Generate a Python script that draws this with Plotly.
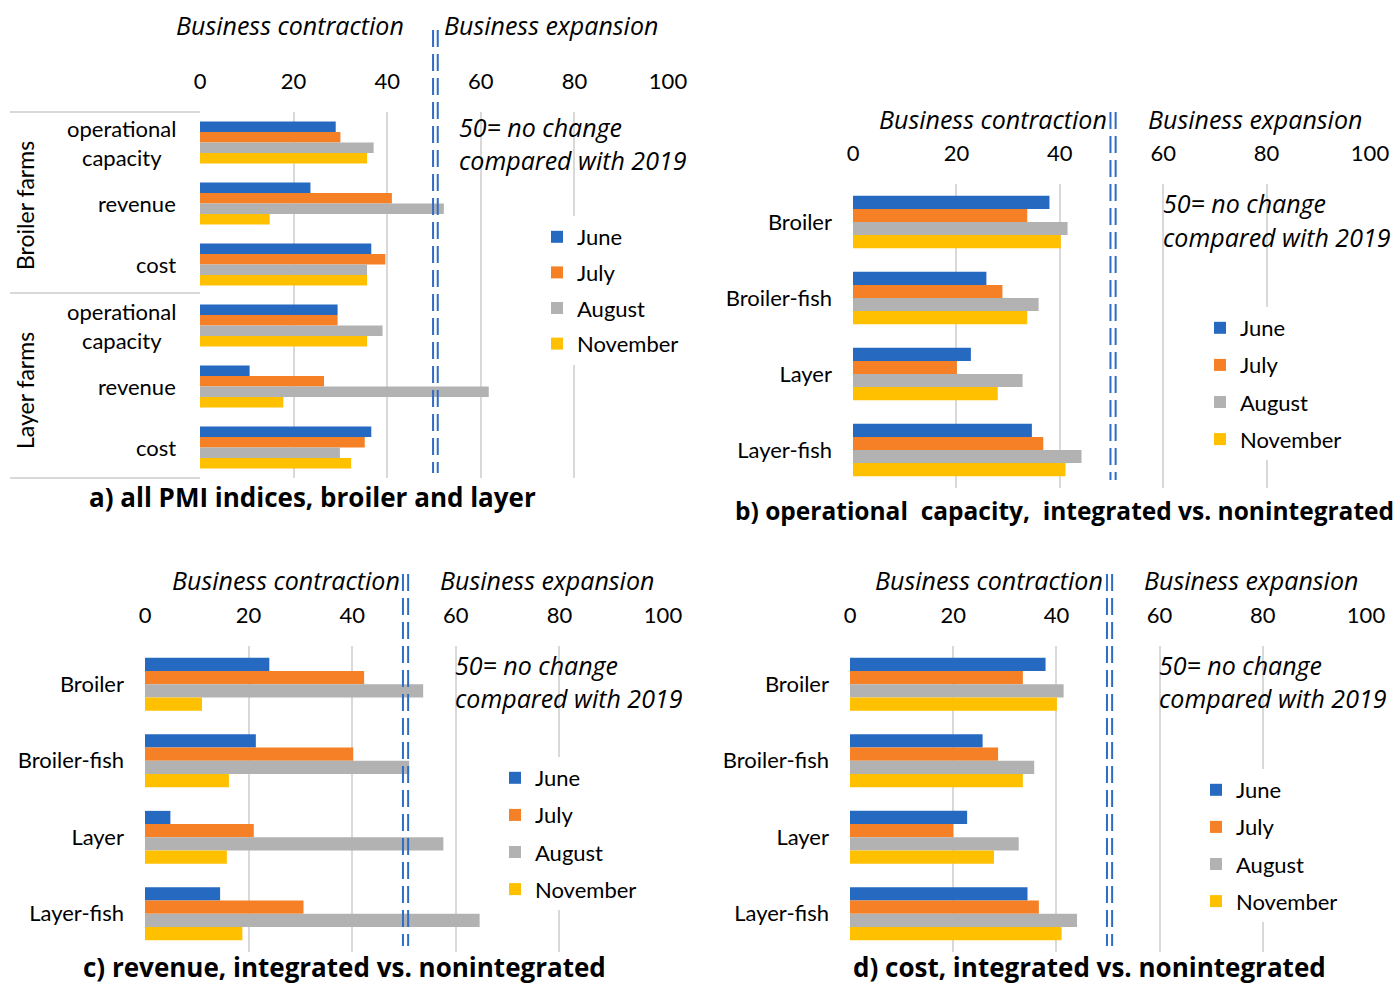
import plotly.graph_objects as go

# ---------------- data ----------------
MONTHS = ["June", "July", "August", "November"]
COLORS = ["#2669C1", "#F58025", "#B2B2B2", "#FFC000"]
TICKS = [0, 20, 40, 60, 80, 100]

# panel a: all PMI indices for broiler and layer farms
GROUPS_A = ["Broiler farms", "Broiler farms", "Broiler farms",
            "Layer farms", "Layer farms", "Layer farms"]
INDICES_A = ["operational<br>capacity", "revenue", "cost",
             "operational<br>capacity", "revenue", "cost"]
A_JUNE = [29.0, 23.6, 36.6, 29.4, 10.6, 36.6]
A_JULY = [30.0, 41.0, 39.6, 29.4, 26.5, 35.2]
A_AUGUST = [37.1, 52.1, 35.7, 39.0, 61.7, 29.9]
A_NOVEMBER = [35.7, 14.9, 35.7, 35.7, 17.8, 32.3]

# panels b-d: integrated vs. nonintegrated farm types
FARM_TYPES = ["Broiler", "Broiler-fish", "Layer", "Layer-fish"]

B_JUNE = [38.0, 25.8, 22.8, 34.6]
B_JULY = [33.7, 28.9, 20.1, 36.8]
B_AUGUST = [41.5, 35.9, 32.8, 44.2]
B_NOVEMBER = [40.2, 33.7, 28.0, 41.1]

C_JUNE = [24.0, 21.4, 4.9, 14.5]
C_JULY = [42.3, 40.2, 21.0, 30.6]
C_AUGUST = [53.7, 51.0, 57.6, 64.6]
C_NOVEMBER = [11.0, 16.2, 15.8, 18.8]

D_JUNE = [37.9, 25.7, 22.7, 34.4]
D_JULY = [33.5, 28.7, 20.0, 36.6]
D_AUGUST = [41.4, 35.7, 32.7, 44.0]
D_NOVEMBER = [40.1, 33.5, 27.9, 41.0]

TITLES = ["a) all PMI indices, broiler and layer",
          "b) operational  capacity,  integrated vs. nonintegrated",
          "c) revenue, integrated vs. nonintegrated",
          "d) cost, integrated vs. nonintegrated"]
NOTE_LINES = ["50= no change", "compared with 2019"]
SIDE_LABELS = ["Business contraction", "Business expansion"]
DIVIDER_X = [49.8, 50.8]   # the double dashed "no change" marker near 50

W, H = 1394, 985
FONT = "Lato"
WIDE_FONT = "Open Sans"
GRID = "#D9D9D9"
DIV_COLOR = "#2F6CC6"


def px(x):
    return x / W


def py(y):
    return 1 - y / H


cat_a = [g + "|" + i for g, i in zip(GROUPS_A, INDICES_A)]

panels = [
    dict(cats=cat_a, vals=[A_JUNE, A_JULY, A_AUGUST, A_NOVEMBER],
         xdom=(200, 668), ydom=(112, 478), ticklabels=False),
    dict(cats=FARM_TYPES, vals=[B_JUNE, B_JULY, B_AUGUST, B_NOVEMBER],
         xdom=(853, 1370), ydom=(184, 488), ticklabels=True),
    dict(cats=FARM_TYPES, vals=[C_JUNE, C_JULY, C_AUGUST, C_NOVEMBER],
         xdom=(145, 663), ydom=(646, 952), ticklabels=True),
    dict(cats=FARM_TYPES, vals=[D_JUNE, D_JULY, D_AUGUST, D_NOVEMBER],
         xdom=(850, 1366), ydom=(646, 952), ticklabels=True),
]

# legend placement (left, top, gap between entries) in pixels
LEGEND_POS = [(537, 216, 4), (1200, 307, 5.5), (495, 757, 5.5), (1196, 769, 5.5)]
# side-label centres: (contraction x, expansion x, y)
SIDE_POS = [(290, 551, 25), (993, 1255, 119), (286, 547, 580), (989, 1251, 580)]
# note position: (left x, first line y, second line y)
NOTE_POS = [(457, 127, 160), (1161, 203, 237), (453, 665, 698), (1157, 665, 698)]
# title centre and size
TITLE_POS = [(312, 497, 26), (1064, 510, 24.5), (344, 967, 26), (1089, 967, 26)]
DIV_SPAN = [(30, 473), (112, 480), (574, 946), (574, 946)]

fig = go.Figure()
annotations = []
shapes = []
layout_axes = {}

for k, p in enumerate(panels):
    n = "" if k == 0 else str(k + 1)
    legend_name = "legend" + n
    for m, month in enumerate(MONTHS):
        fig.add_trace(go.Bar(
            y=p["cats"], x=p["vals"][m], orientation="h", name=month,
            marker=dict(color=COLORS[m], line=dict(width=0)),
            xaxis="x" + n, yaxis="y" + n,
            legend=legend_name, legendgroup=f"{k}-{month}",
            showlegend=True,
        ))

    layout_axes["xaxis" + n] = dict(
        domain=[px(p["xdom"][0]), px(p["xdom"][1])],
        anchor="y" + n, side="top", range=[0, 100],
        tickmode="array", tickvals=TICKS, ticktext=[str(t) for t in TICKS],
        showgrid=True, gridcolor=GRID, gridwidth=2,
        zeroline=False, showline=False, ticks="", automargin=False,
        ticklabelstandoff=18, tickfont=dict(size=22, family=FONT),
        fixedrange=True,
    )
    layout_axes["yaxis" + n] = dict(
        domain=[py(p["ydom"][1]), py(p["ydom"][0])],
        anchor="x" + n, type="category", autorange="reversed",
        showgrid=False, zeroline=False, showline=False, ticks="",
        automargin=False,
        showticklabels=p["ticklabels"], ticklabelstandoff=20,
        tickfont=dict(size=22, family=FONT), fixedrange=True,
    )

    lx, ly, gap = LEGEND_POS[k]
    layout_axes[legend_name] = dict(
        x=px(lx), y=py(ly), xanchor="left", yanchor="top",
        bgcolor="white", borderwidth=0, tracegroupgap=gap,
        font=dict(size=22, family=FONT), traceorder="grouped",
    )

    cx, ex, sy = SIDE_POS[k]
    for text, xx in zip(SIDE_LABELS, (cx, ex)):
        annotations.append(dict(
            text=f"<i>{text}</i>", x=px(xx), y=py(sy), xref="paper", yref="paper",
            xanchor="center", yanchor="middle", showarrow=False,
            font=dict(size=25, family=WIDE_FONT)))

    nx, n1, n2 = NOTE_POS[k]
    for text, yy in zip(NOTE_LINES, (n1, n2)):
        annotations.append(dict(
            text=f"<i>{text}</i>", x=px(nx), y=py(yy), xref="paper", yref="paper",
            xanchor="left", yanchor="middle", showarrow=False,
            font=dict(size=25, family=WIDE_FONT)))

    tx, ty, ts = TITLE_POS[k]
    annotations.append(dict(
        text=f"<b>{TITLES[k]}</b>", x=px(tx), y=py(ty), xref="paper", yref="paper",
        xanchor="center", yanchor="middle", showarrow=False,
        font=dict(size=ts, family=WIDE_FONT)))

    d0, d1 = DIV_SPAN[k]
    for dx in DIVIDER_X:
        shapes.append(dict(
            type="line", xref="x" + n, yref="paper", x0=dx, x1=dx,
            y0=py(d0), y1=py(d1), layer="above",
            line=dict(color=DIV_COLOR, width=2, dash="17px,7px")))

# panel a: index labels (centred multi-line block, right aligned to the axis)
for cat, label in zip(cat_a, INDICES_A):
    annotations.append(dict(
        text=label, x=px(178), y=cat, xref="paper", yref="y",
        xanchor="right", yanchor="middle", align="center", showarrow=False,
        font=dict(size=22, family=FONT)))

# panel a: farm group labels and table-style separators
for text, yy in (("Broiler farms", 206), ("Layer farms", 391)):
    annotations.append(dict(
        text=text, x=px(25), y=py(yy), xref="paper", yref="paper",
        xanchor="center", yanchor="middle", textangle=-90, showarrow=False,
        font=dict(size=23, family=FONT)))
for yy in (112, 293, 478):
    shapes.append(dict(type="line", xref="paper", yref="paper",
                       x0=px(10), x1=px(200), y0=py(yy), y1=py(yy),
                       line=dict(color=GRID, width=2), layer="below"))

fig.update_layout(
    width=W, height=H, autosize=False,
    margin=dict(l=0, r=0, t=0, b=0, autoexpand=False),
    paper_bgcolor="white", plot_bgcolor="white",
    barmode="group", bargap=0.31, bargroupgap=0,
    font=dict(family=FONT, size=22, color="black"),
    annotations=annotations, shapes=shapes,
    **layout_axes,
)

fig.write_html("out.html")
